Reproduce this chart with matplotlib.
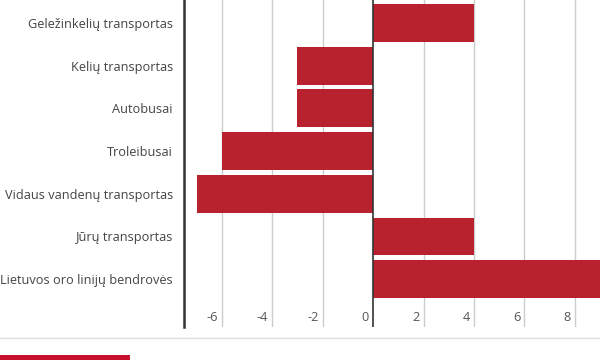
import matplotlib
matplotlib.use("Agg")
import matplotlib.pyplot as plt
from matplotlib.lines import Line2D
from matplotlib.patches import Rectangle

plt.rcParams['font.family'] = ['Open Sans', 'DejaVu Sans']

categories = ["Geležinkelių transportas", "Kelių transportas", "Autobusai",
              "Troleibusai", "Vidaus vandenų transportas", "Jūrų transportas",
              "Lietuvos oro linijų bendrovės"]
values = [4.0, -3.0, -3.0, -6.0, -7.0, 4.0, 10.0]
ticks = [-6, -4, -2, 0, 2, 4, 6, 8]

W, H = 600, 360
fig = plt.figure(figsize=(6, 3.6), dpi=100)
ax = fig.add_axes([184 / W, 1 - 327 / H, (W - 184) / W, 327 / H])

ypos = list(range(len(categories)))
ax.barh(ypos, values, height=0.89, color="#b8222f", zorder=3)

ax.set_xlim(-7.5, 9)
ax.set_ylim(7.12, -0.54)

for t in ticks:
    if t == 0:
        ax.axvline(0, color="#333333", lw=1.2, zorder=4)
    else:
        ax.axvline(t, color="#cccccc", lw=1.0, zorder=1)
    ax.annotate(str(t), xy=(t, 6.9), xytext=(-3, 0), textcoords="offset points",
                ha="right", va="center", fontsize=9.2, color="#555555")

ax.set_xticks([])
ax.set_yticks(ypos)
ax.set_yticklabels(categories, fontsize=9.2, color="#444444")
ax.tick_params(axis="y", length=0, pad=8)

for s in ["top", "right", "bottom"]:
    ax.spines[s].set_visible(False)
ax.spines["left"].set_color("#333333")
ax.spines["left"].set_linewidth(1.8)

# footer line and accent
fig.add_artist(Line2D([0, 1], [1 - 338 / H, 1 - 338 / H], color="#dddddd", lw=1))
fig.add_artist(Rectangle((0, 0), 130 / W, 5 / H, color="#c8102e", lw=0))

fig.savefig("out.png", dpi=100)
